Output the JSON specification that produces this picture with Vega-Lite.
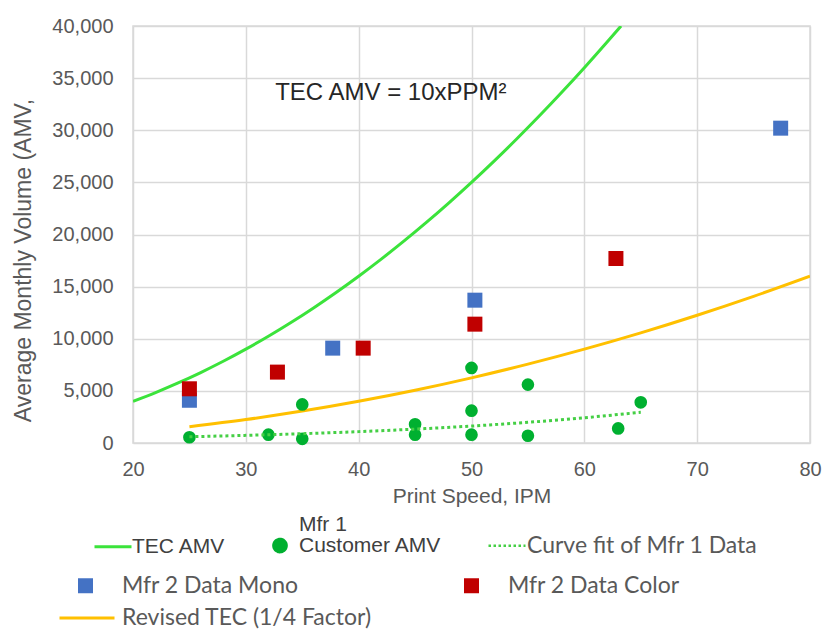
{
  "$schema": "https://vega.github.io/schema/vega-lite/v6.json",
  "width": 677,
  "height": 417,
  "autosize": {"type": "none"},
  "padding": {"left": 133, "top": 26, "right": 14, "bottom": 187},
  "background": "white",
  "config": {
    "view": {"stroke": "#D9D9D9", "strokeWidth": 1.5},
    "axis": {
      "grid": true, "gridColor": "#D9D9D9", "gridWidth": 1.5,
      "domain": false, "ticks": false, "tickSize": 0, "labelFlush": false,
      "labelFont": "Liberation Sans", "labelFontSize": 20, "labelColor": "#595959",
      "titleFont": "Liberation Sans", "titleFontSize": 21, "titleFontWeight": "normal", "titleColor": "#595959"
    }
  },
  "data": {"values": [
    {"series": "TEC AMV", "x": 20, "y": 4000},
    {"series": "TEC AMV", "x": 22, "y": 4840},
    {"series": "TEC AMV", "x": 24, "y": 5760},
    {"series": "TEC AMV", "x": 26, "y": 6760},
    {"series": "TEC AMV", "x": 28, "y": 7840},
    {"series": "TEC AMV", "x": 30, "y": 9000},
    {"series": "TEC AMV", "x": 32, "y": 10240},
    {"series": "TEC AMV", "x": 34, "y": 11560},
    {"series": "TEC AMV", "x": 36, "y": 12960},
    {"series": "TEC AMV", "x": 38, "y": 14440},
    {"series": "TEC AMV", "x": 40, "y": 16000},
    {"series": "TEC AMV", "x": 42, "y": 17640},
    {"series": "TEC AMV", "x": 44, "y": 19360},
    {"series": "TEC AMV", "x": 46, "y": 21160},
    {"series": "TEC AMV", "x": 48, "y": 23040},
    {"series": "TEC AMV", "x": 50, "y": 25000},
    {"series": "TEC AMV", "x": 52, "y": 27040},
    {"series": "TEC AMV", "x": 54, "y": 29160},
    {"series": "TEC AMV", "x": 56, "y": 31360},
    {"series": "TEC AMV", "x": 58, "y": 33640},
    {"series": "TEC AMV", "x": 60, "y": 36000},
    {"series": "TEC AMV", "x": 62, "y": 38440},
    {"series": "TEC AMV", "x": 63.25, "y": 40000},
    {"series": "Revised TEC (1/4 Factor)", "x": 25, "y": 1562},
    {"series": "Revised TEC (1/4 Factor)", "x": 30, "y": 2250},
    {"series": "Revised TEC (1/4 Factor)", "x": 35, "y": 3062},
    {"series": "Revised TEC (1/4 Factor)", "x": 40, "y": 4000},
    {"series": "Revised TEC (1/4 Factor)", "x": 45, "y": 5062},
    {"series": "Revised TEC (1/4 Factor)", "x": 50, "y": 6250},
    {"series": "Revised TEC (1/4 Factor)", "x": 55, "y": 7562},
    {"series": "Revised TEC (1/4 Factor)", "x": 60, "y": 9000},
    {"series": "Revised TEC (1/4 Factor)", "x": 65, "y": 10562},
    {"series": "Revised TEC (1/4 Factor)", "x": 70, "y": 12250},
    {"series": "Revised TEC (1/4 Factor)", "x": 75, "y": 14062},
    {"series": "Revised TEC (1/4 Factor)", "x": 80, "y": 16000},
    {"series": "Curve fit of Mfr 1 Data", "x": 25, "y": 600},
    {"series": "Curve fit of Mfr 1 Data", "x": 30, "y": 733},
    {"series": "Curve fit of Mfr 1 Data", "x": 35, "y": 894},
    {"series": "Curve fit of Mfr 1 Data", "x": 40, "y": 1091},
    {"series": "Curve fit of Mfr 1 Data", "x": 45, "y": 1332},
    {"series": "Curve fit of Mfr 1 Data", "x": 50, "y": 1626},
    {"series": "Curve fit of Mfr 1 Data", "x": 55, "y": 1985},
    {"series": "Curve fit of Mfr 1 Data", "x": 60, "y": 2423},
    {"series": "Curve fit of Mfr 1 Data", "x": 65, "y": 2950},
    {"series": "Mfr 1 Customer AMV", "x": 25, "y": 550},
    {"series": "Mfr 1 Customer AMV", "x": 32, "y": 800},
    {"series": "Mfr 1 Customer AMV", "x": 35, "y": 3700},
    {"series": "Mfr 1 Customer AMV", "x": 35, "y": 400},
    {"series": "Mfr 1 Customer AMV", "x": 45, "y": 1800},
    {"series": "Mfr 1 Customer AMV", "x": 45, "y": 800},
    {"series": "Mfr 1 Customer AMV", "x": 50, "y": 7200},
    {"series": "Mfr 1 Customer AMV", "x": 50, "y": 3100},
    {"series": "Mfr 1 Customer AMV", "x": 50, "y": 800},
    {"series": "Mfr 1 Customer AMV", "x": 55, "y": 5600},
    {"series": "Mfr 1 Customer AMV", "x": 55, "y": 700},
    {"series": "Mfr 1 Customer AMV", "x": 63, "y": 1400},
    {"series": "Mfr 1 Customer AMV", "x": 65, "y": 3900},
    {"series": "Mfr 2 Data Mono", "x": 25, "y": 4100},
    {"series": "Mfr 2 Data Mono", "x": 37.7, "y": 9100},
    {"series": "Mfr 2 Data Mono", "x": 50.3, "y": 13700},
    {"series": "Mfr 2 Data Mono", "x": 77.4, "y": 30200},
    {"series": "Mfr 2 Data Color", "x": 25, "y": 5200},
    {"series": "Mfr 2 Data Color", "x": 32.8, "y": 6800},
    {"series": "Mfr 2 Data Color", "x": 40.4, "y": 9100},
    {"series": "Mfr 2 Data Color", "x": 50.3, "y": 11400},
    {"series": "Mfr 2 Data Color", "x": 62.8, "y": 17700}
  ]},
  "encoding": {
    "x": {
      "field": "x", "type": "quantitative",
      "scale": {"domain": [20, 80], "nice": false, "zero": false},
      "axis": {"values": [20, 30, 40, 50, 60, 70, 80], "title": "Print Speed, IPM", "labelPadding": 16, "titleY": 59, "titleBaseline": "alphabetic"}
    },
    "y": {
      "field": "y", "type": "quantitative",
      "scale": {"domain": [0, 40000], "nice": false},
      "axis": {"values": [0, 5000, 10000, 15000, 20000, 25000, 30000, 35000, 40000], "labelExpr": "format(datum.value, ',')", "title": "Average Monthly Volume (AMV,", "labelPadding": 20, "titleX": -103, "titleY": 234, "titleBaseline": "alphabetic", "titleAngle": -90, "titleFontSize": 23}
    }
  },
  "layer": [
    {
      "transform": [{"filter": "datum.series === 'TEC AMV'"}],
      "mark": {"type": "line", "strokeWidth": 3, "interpolate": "monotone", "clip": true},
      "encoding": {
        "color": {
          "field": "series", "type": "nominal",
          "scale": {"domain": ["TEC AMV", "Mfr 1 Customer AMV", "Curve fit of Mfr 1 Data"], "range": ["#3BE33B", "#00B030", "#45CF45"]},
          "legend": {
            "title": null, "orient": "none", "legendX": -30.5, "legendY": 509,
            "direction": "horizontal", "columns": 3,
            "symbolSize": 1369, "labelOffset": 8.5, "columnPadding": 42, "padding": 0,
            "labelLimit": 400, "labelFont": "Liberation Sans", "labelFontSize": 21, "labelColor": "#404040",
            "labelExpr": "datum.value === 'Mfr 1 Customer AMV' ? ['Mfr 1', 'Customer AMV'] : datum.label",
            "encoding": {
              "symbols": {
                "shape": {"value": {"expr": "datum.value === 'Mfr 1 Customer AMV' ? 'circle' : 'stroke'"}},
                "size": {"value": {"expr": "datum.value === 'Mfr 1 Customer AMV' ? 160 : 1369"}},
                "fill": {"value": {"expr": "datum.value === 'Mfr 1 Customer AMV' ? '#00B030' : 'transparent'"}},
                "stroke": {"value": {"expr": "datum.value === 'TEC AMV' ? '#3BE33B' : datum.value === 'Curve fit of Mfr 1 Data' ? '#5CD65C' : 'transparent'"}},
                "strokeWidth": {"value": {"expr": "datum.value === 'Curve fit of Mfr 1 Data' ? 2.5 : 3"}},
                "strokeDash": {"value": {"expr": "datum.value === 'Curve fit of Mfr 1 Data' ? [2.5, 2.5] : [1, 0]"}},
                "opacity": {"value": 1}
              },
              "labels": {
                "font": {"value": {"expr": "datum.value === 'Curve fit of Mfr 1 Data' ? 'Lato' : 'Liberation Sans'"}},
                "fontSize": {"value": {"expr": "datum.value === 'Curve fit of Mfr 1 Data' ? 23 : 21"}},
                "fill": {"value": {"expr": "datum.value === 'Curve fit of Mfr 1 Data' ? '#595959' : '#404040'"}},
                "lineHeight": {"value": 21},
                "dx": {"value": {"expr": "datum.value === 'Curve fit of Mfr 1 Data' ? 1 : 0"}},
                "dy": {"value": {"expr": "datum.value === 'Mfr 1 Customer AMV' ? -21 : 0"}}
              }
            }
          }
        }
      }
    },
    {
      "transform": [{"filter": "datum.series === 'Revised TEC (1/4 Factor)'"}],
      "mark": {"type": "line", "strokeWidth": 3, "interpolate": "monotone", "clip": true},
      "encoding": {
        "stroke": {
          "field": "series", "type": "nominal",
          "scale": {"domain": ["Revised TEC (1/4 Factor)"], "range": ["#FFC000"]},
          "legend": {
            "title": null, "orient": "none", "legendX": -75, "legendY": 563,
            "symbolType": "stroke", "symbolSize": 3025, "symbolStrokeWidth": 3, "labelOffset": 6, "padding": 0,
            "labelLimit": 400, "labelFont": "Lato", "labelFontSize": 23, "labelColor": "#595959"
          }
        }
      }
    },
    {
      "transform": [{"filter": "datum.series === 'Mfr 1 Customer AMV'"}],
      "mark": {"type": "circle", "size": 160, "opacity": 1},
      "encoding": {"color": {"field": "series", "type": "nominal"}}
    },
    {
      "transform": [{"filter": "datum.series === 'Curve fit of Mfr 1 Data'"}],
      "mark": {"type": "line", "strokeWidth": 3, "strokeDash": [3, 3], "interpolate": "monotone"},
      "encoding": {"color": {"field": "series", "type": "nominal"}}
    },
    {
      "transform": [{"filter": "datum.series === 'Mfr 2 Data Mono' || datum.series === 'Mfr 2 Data Color'"}],
      "mark": {"type": "square", "size": 225, "opacity": 1},
      "encoding": {
        "fill": {
          "field": "series", "type": "nominal",
          "scale": {"domain": ["Mfr 2 Data Mono", "Mfr 2 Data Color"], "range": ["#4472C4", "#C00000"]},
          "legend": {
            "title": null, "orient": "none", "legendX": -59, "legendY": 548,
            "direction": "horizontal", "columns": 2,
            "symbolType": "square", "symbolSize": 225, "symbolStrokeWidth": 0, "symbolOpacity": 1,
            "labelOffset": 25, "columnPadding": 161, "padding": 0,
            "labelLimit": 400, "labelFont": "Lato", "labelFontSize": 23, "labelColor": "#595959"
          }
        }
      }
    },
    {
      "data": {"values": [{"x": 32.6, "y": 33600, "note": "TEC AMV = 10xPPM²"}]},
      "mark": {"type": "text", "align": "left", "baseline": "middle", "font": "Liberation Sans", "fontSize": 24, "color": "#262626"},
      "encoding": {"text": {"field": "note", "type": "nominal"}}
    }
  ]
}
